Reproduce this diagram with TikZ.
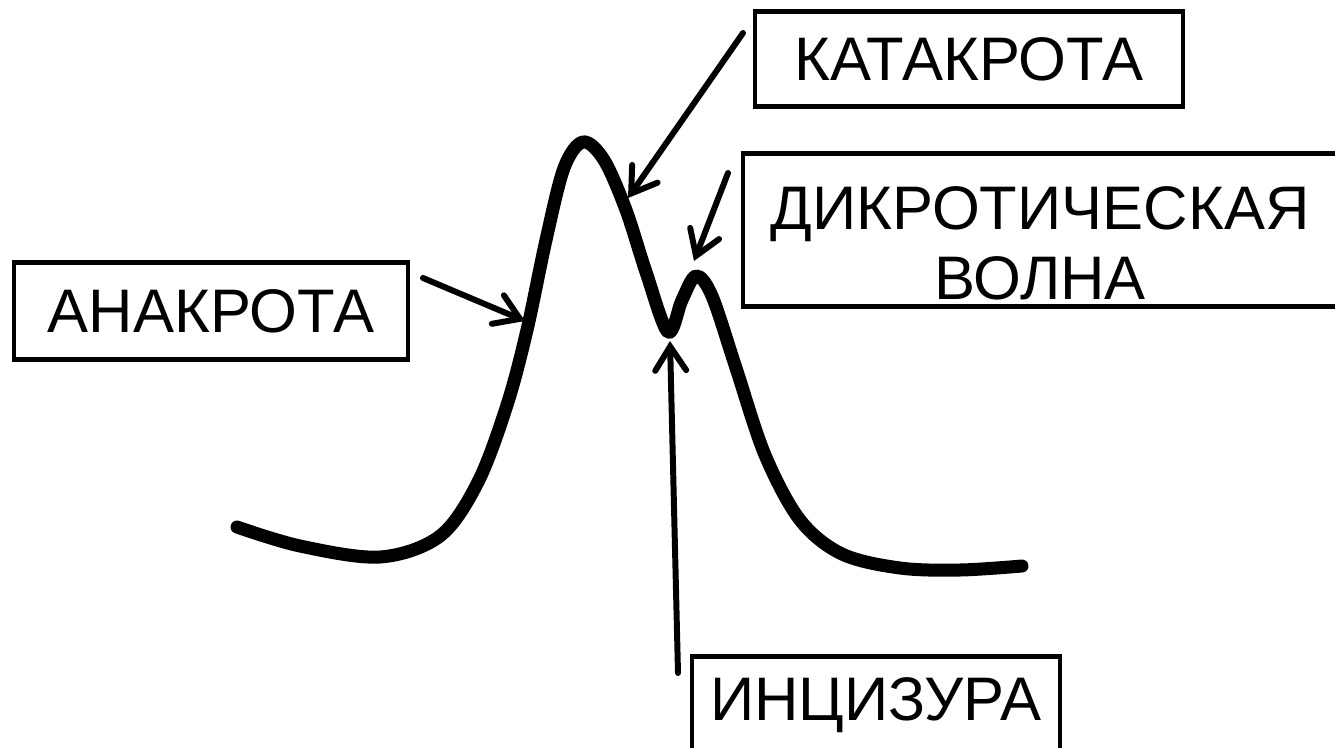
\documentclass[tikz,border=0pt]{standalone}
\usepackage{fontspec}
\setmainfont{Liberation Sans}
\usepackage{tikz}
\usetikzlibrary{arrows.meta}
\usetikzlibrary{positioning,fit}
\tikzstyle{pulse}=[draw=black,line width=7.4pt,line cap=round,line join=round]
\tikzstyle{pointer}=[draw=black,line width=3.4pt,line cap=round,-{Straight Barb[length=0.48cm,width=0.62cm,line cap=round]}]
\tikzset{frame/.style={rectangle,draw=black,line width=2.5pt,inner sep=0pt,
    font=\fontsize{35}{40}\selectfont,align=center
  }
}

\begin{document}
\begin{tikzpicture}[x=0.02cm,y=-0.02cm]
    \useasboundingbox (0,0) rectangle (1335,747);
    \clip (0,0) rectangle (1335,747);
    \fill[white] (0,0) rectangle (1335,747);

    % pulse wave
    \draw [pulse] plot[smooth,tension=0.55] coordinates {
      (237,527) (300,546) (380,557) (440,536) (478,482) (507,405) (527,330)
      (546,240) (564,168) (583,142) (604,160) (626,210) (646,272) (668,332)
      (682,300) (696,276) (712,296) (736,368) (765,455) (800,520) (842,554)
      (900,568) (960,570) (1022,566)};

    \node [frame,minimum width=8.56cm,minimum height=1.9cm] (Katakrota) at (969,59) {КАТАКРОТА};
    \node [frame,minimum width=7.88cm,minimum height=1.94cm] (Anakrota) at (211,311) {АНАКРОТА};
    \node [frame,minimum width=12.04cm,minimum height=3.06cm] (DikrotBox) at (1044,230) {};
    \node [font=\fontsize{35}{40}\selectfont,align=center,inner sep=0pt] (Dikrot) at (1040,243) {ДИКРОТИЧЕСКАЯ\\ВОЛНА};
    \node [frame,minimum width=7.36cm,minimum height=1.94cm] (Incisura) at (876,705) {ИНЦИЗУРА};

    \coordinate (Katakrota tail) at (743,33);
    \coordinate (Katakrota tip) at (628,198);
    \coordinate (Anakrota tail) at (423,278);
    \coordinate (Anakrota tip) at (525,321);
    \coordinate (Dikrot tail) at (728,173);
    \coordinate (Dikrot tip) at (694,261);
    \coordinate (Incisura tail) at (678,673);
    \coordinate (Incisura tip) at (670,341);

    \draw [pointer] (Katakrota tail) -- (Katakrota tip);
    \draw [pointer] (Anakrota tail) -- (Anakrota tip);
    \draw [pointer] (Dikrot tail) -- (Dikrot tip);
    \draw [pointer] (Incisura tail) -- (Incisura tip);
\end{tikzpicture}
\end{document}
